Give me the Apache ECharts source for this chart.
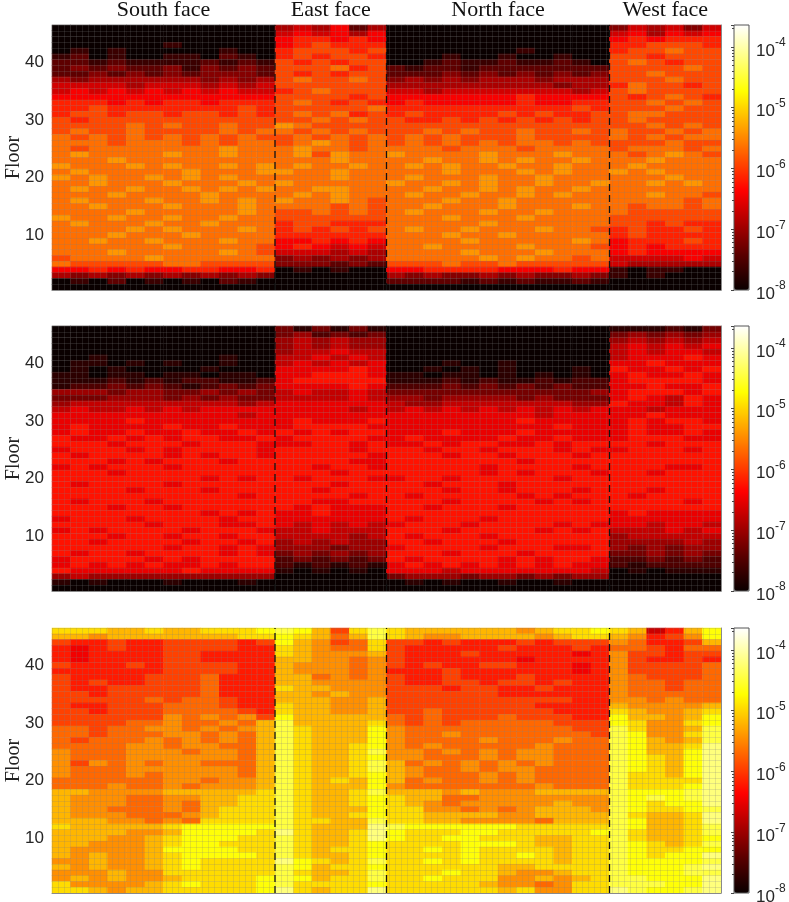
<!DOCTYPE html>
<html><head><meta charset="utf-8">
<style>html,body{margin:0;padding:0;background:#fff}#c{width:789px;height:902px}</style>
<script src="https://cdn.jsdelivr.net/npm/echarts@6/dist/echarts.min.js"></script>
</head><body><div id="c"></div>
<script>
// Values are by-eye estimates at reduced horizontal resolution: one value per floor
// and per block of about 3 original columns. Cell-level speckle is NOT reproduced.
// Each character is a level n in base 17 (0-9,a-g); log10(value) = -8 + 0.25*n + panelLift.
// panelLift is a by-eye colour re-estimate for the panel's non-black cells.
// Rows run from floor 46 down to floor 1; groups are South, East, North, West.
const faces = ['South face','East face','North face','West face'];
const faceCentres = [18.5,46.25,74,101.75];
const faceEdges = [37,55.5,92.5];
const floorTicks = [10,20,30,40];
const panelLift = [0.1,0,0.05];
const panelA = [
'000000000000 454624 000000000000 354535','000000000000 565646 000000000000 564656',
'000000000000 677676 000000000000 676777','000000100000 678777 000000000000 778887',
'010100000100 788878 000000010000 788988','120100110210 787887 000100100100 887888',
'221211112121 878788 001211211210 898788','232322313232 888978 212212222222 888898',
'223232323332 878788 222323232323 889888','434444443434 898898 343434443444 888988',
'555545554545 888888 444444444344 798878','565656565655 789888 554555555545 898888',
'666666666666 888878 666666676666 878987','777676776777 898787 676666676677 889898',
'778777777787 888889 777777777787 888988','788788788787 898978 787777878778 899888',
'878888888888 889898 877878787878 898888','888898988988 a98888 888888888888 889898',
'898898888989 989898 889898898898 988989','989898989898 898989 898988898888 989899',
'999899989899 89a989 898989899898 888988','989999999a99 9a9989 999899989999 899989',
'9a9999a99a99 9a8a99 a9999a999a99 989a98','999a99999999 999a99 99a99a9a99a9 99a999',
'a999a9a99a9a 9a99a9 9a9a99a99a99 9a9999','9a99999a999a a99a99 999a999a9a99 a9a999',
'a9a99a9a9a99 999a99 9a999a99a999 999a99','99a999a999a9 a99999 a99a9a99a99a 99a9a9',
'9a99a99a9a9a 99aa99 99a99a9a99a9 999999','999a9999a999 9a9a99 9a99a99a9a99 99a998',
'9a999a99a9a9 a99a98 999a99a99999 999989','99a999a999a9 999898 99a999a999a9 989989',
'9999a99999a9 889898 9a999a99a999 988888','a99a99a99a99 888888 999a999a9999 888888',
'9a999a99a999 788777 99999a999999 887877','9999a9a999a9 787878 9a99a999a998 787787',
'999a999a9999 777777 999a99a99999 787777','99a99a999a99 667676 9999a99999a9 677787',
'999999a99998 676565 99a9999a9998 676777','999a99999a98 555454 9999a999a999 676666',
'89999a999999 343434 99999a9a9989 555565','988888998888 333232 888988988888 544444',
'667676677667 010100 667777666766 101100','434343434343 000000 434334343343 101000',
'010201010210 000000 222212121121 000000','000000000000 000000 000000000000 000000'];
const panelB = [
'000000000000 313131 000000000000 111213','000000000000 342323 000000000000 343434',
'000000000000 454544 000000000000 454545','000000000000 454544 000000000000 565656',
'000000000000 455655 000000000000 565665','001000000100 556565 000000000000 566676',
'011010100100 565656 000100100000 667666','010100001000 666676 001010100010 766767',
'110110110110 667776 110110101010 676676','111212122112 677777 111212112122 677776',
'122323212323 666676 222323232322 667667','444344334343 565565 333333333334 677767',
'333444343433 555565 443444434333 676576','455555555545 666666 544555555544 766576',
'565565656666 666656 565656565656 665666','666666666656 666666 666666665666 667666',
'666676666666 676667 666666676666 676776','676666766766 677776 666666666766 676677',
'676676676676 767677 666766676666 676676','766767677667 677776 676666766766 677766',
'777677767776 667767 667677667677 776777','677767677776 777767 776776777676 677767',
'767777676776 777776 777677677767 777777','777676777677 777766 777777767777 777777',
'676777677777 776776 777776777767 777667','777677777777 777677 777776767776 776777',
'777777776767 767776 677677777677 777777','767777677777 777677 776777677777 777777',
'777767776777 776777 777677677767 776777','777777777767 777767 767777767677 767777',
'767776777777 776677 777677776767 777767','777677677777 767666 776777677777 777777',
'777777776767 667666 777777777777 676666','677767777677 666666 767776777777 666666',
'777776777667 656565 677767777676 665665','676777767776 556555 777677776767 555656',
'777677677677 555545 767776777777 455555','776777767767 454544 776777677777 444454',
'777777677676 444344 677776777667 434344','767767777676 343434 777677767777 334343',
'677776767777 232323 767777676776 223232','676767667677 212121 676767676766 212222',
'766666676666 101010 666566666665 010111','454444444444 000000 344434434344 000000',
'101000100010 000000 010100100100 000000','000000000000 000000 000000000000 000000'];
const panelC = [
'cccbbcbbcccd edb8ce cbbbbbbabccd cb57bd','bbabbbbbbbcc dcb9be cbaabbbbabcc ba78ad',
'877877888878 dba89c 887877787888 a9778b','767877888877 cba99c 877777877787 998799',
'767777887777 cbaaab 877787777767 a88788','767777887777 bbaa9a 877777767777 a87787',
'877787888877 baaa9a 878778877767 a88889','777777888877 baaa9a 777877777767 a88889',
'877778889777 bb9a9a 877877787777 a98889','878778889777 bbaaaa 877887887877 a99899',
'877888889777 cbbaaa 888788778777 a99899','887888889777 bbabaa 888888777777 a99999',
'888889899877 bbbaab 888888888877 aa9a99','877888999877 cbbaab 888888887777 baaaab',
'887888999987 cbbaab 889888888777 cbaabc','888888a9a9a8 dbbbbb 989888988877 dbbabd',
'888899a99a9b ebbbbc 989899999888 dcaacd','99899aa9a9ab ecbbbd a99999999988 ecaabe',
'998999aa9a9b ecbbbd a99a99999998 edaace','98999a9a9a9b ecbbbd a9999a999a99 edbabe',
'9999aa9aa99b ecbbcd a9a99999a999 edbbcf','a999aaa9aa9b ecbbce aa9a9a9aa999 edbbdf',
'a999aaaaaa9b ecbbcd aa999a9aa999 edcbdf','a8a9a9aa999b ecbbce b9a9a9a9a999 edcbdf',
'a999aaaaaa9b ecbbce ba99a9aa9999 edcbdf','a999a9aaaa9b ecbbcd ba999a9a9999 eccbdf',
'999999aa9aab ecbcbd b9a99a9a9999 eccccf','999a99a9aaab ecbbbd a9999999a999 ecccdf',
'bbaaaabbbbbc ecbbce bbbabaaabbbb edddef','baaa99aabbcc ecbbcd cbb99aaaaaaa ededef',
'baaa99a9bbcc ecbbcd cba9aaaaabaa edcddf','baa999a9bccc ecbbbd ccaa9a9abbba edccde',
'baaa999abccc ecbbcd ccbbbbaabbbb ecbbcf','bbbaa9a9cccc eccbbe ccbbaaaa9bbb edbbcf',
'cbbbbbcddddd ecbbbf eddddddccccc edbbce','bbbbaabddddc fcbbcf dcccddcccccd ecbbce',
'bbbaabcdddcc ecbbcf dccddcccbbcc ecbbcd','bbaaabcddccc ecbbcd ccccdddcbbcc edcbce',
'baaaabddddcc ecbccd ccdcdccccbcc edccdd','babaabcddddc ecbbcd ccccdccdcbcc edcddf',
'aabaabcdcccc fdcbce ccdcdccccbcc edddde','babaabcdcccc edbccd ccccccbbcccc edddef',
'aaabaacccccc ecbbce cccdccbaabcc edddee','ababaabccccd edbcce ccdcccaababc eedddf',
'caaaabcdcccd eccccd cccccbaa9acc eeeddf','ccbabbcccccd fcbccf ccccccbcaacc feddef'];
const panels = [panelA,panelB,panelC];
const barMin = -8, barMax = Math.log10(2.3e-4);
const hot = ['#0a0000','#550000','#aa0000','#ff0000','#ff5500','#ffaa00','#ffff00','#ffff80','#ffffff'];
const tops = [25,326,628], H = 265, L = 52, W = 669;
const BAR_X = 734, BAR_W = 15;
const mesh = 'rgba(125,125,125,0.42)', sans = '"Liberation Sans",Arial,sans-serif', serif = '"Liberation Serif",serif';
const floors = Array.from({length:46},(_,i)=>String(i+1));
const blocks = Array.from({length:36},(_,i)=>String(i));

const grid=[],xAxis=[],yAxis=[],series=[],visualMap=[];
panels.forEach((rows,p)=>{
  const g0 = grid.length;
  grid.push({left:L,top:tops[p],width:W,height:H,show:false,containLabel:false,outerBoundsMode:'none'});
  xAxis.push({type:'category',gridIndex:g0,data:blocks,axisLabel:{show:false},axisTick:{show:false},axisLine:{show:false},splitLine:{show:false}});
  yAxis.push({type:'category',gridIndex:g0,data:floors,name:'Floor',nameLocation:'middle',nameGap:28,nameRotate:90,nameMoveOverlap:false,
    nameTextStyle:{fontFamily:serif,fontSize:20,color:'#222'},
    axisLine:{show:false},splitLine:{show:false},
    axisTick:{show:true,inside:true,length:4,alignWithLabel:true,lineStyle:{color:'#555'},interval:(i,v)=>floorTicks.includes(+v)},
    axisLabel:{fontFamily:sans,fontSize:17,color:'#262626',margin:8,interval:(i,v)=>floorTicks.includes(+v)}});
  xAxis.push({type:'value',gridIndex:g0,min:0,max:111,interval:1,position:'bottom',z:5,axisLabel:{show:false},axisTick:{show:false},
    axisLine:{show:true,onZero:false,lineStyle:{color:'#8a8a8a'}},splitLine:{show:true,lineStyle:{color:mesh,width:0.5}}});
  yAxis.push({type:'value',gridIndex:g0,min:0,max:46,interval:1,position:'right',z:5,axisLabel:{show:false},axisTick:{show:false},
    axisLine:{show:true,onZero:false,lineStyle:{color:'#8a8a8a'}},splitLine:{show:true,lineStyle:{color:mesh,width:0.5}}});
  const data=[];
  rows.forEach((r,ri)=>{
    r.replace(/ /g,'').split('').forEach((ch,ci)=>{
      const n = parseInt(ch,17);
      data.push([ci,45-ri,n===0?-8:-8+0.25*n+panelLift[p]]);
    });
  });
  const si = series.length;
  series.push({type:'heatmap',xAxisIndex:2*p,yAxisIndex:2*p,data,silent:true,progressive:0,itemStyle:{borderWidth:0}});
  faceEdges.forEach(e=>series.push({type:'line',xAxisIndex:2*p+1,yAxisIndex:2*p+1,data:[[e,0],[e,46]],symbol:'none',silent:true,z:6,
    lineStyle:{color:'#111',width:1.3,type:[7,4]}}));
  visualMap.push({type:'continuous',seriesIndex:si,dimension:2,min:barMin,max:barMax,calculable:false,hoverLink:false,
    left:BAR_X,top:tops[p],itemWidth:BAR_W,itemHeight:H,padding:0,text:null,showLabel:false,inRange:{color:hot},textStyle:{fontSize:0}});
});
panels.forEach((_,p)=>{
  const gi = grid.length;
  grid.push({left:BAR_X,top:tops[p],width:BAR_W,height:H,show:true,backgroundColor:'transparent',borderColor:'#555',borderWidth:1,z:20,containLabel:false,outerBoundsMode:'none'});
  xAxis.push({type:'value',gridIndex:gi,min:0,max:1,show:false});
  yAxis.push({type:'log',gridIndex:gi,logBase:10,min:1e-8,max:2.3e-4,position:'right',z:20,
    axisLine:{show:false},splitLine:{show:false},minorSplitLine:{show:false},
    axisTick:{show:true,inside:true,length:3,lineStyle:{color:'#444'}},
    minorTick:{show:true,splitNumber:9,length:2,lineStyle:{color:'#444'}},
    axisLabel:{margin:7,color:'#262626',fontFamily:sans,
      formatter:v=>{const e=Math.log10(v);return Math.abs(e-Math.round(e))<1e-6?'{b|10}{s|'+Math.round(e)+'}':'';},
      rich:{b:{fontSize:17,fontFamily:sans,color:'#262626',padding:[8,0,0,0]},s:{fontSize:12,fontFamily:sans,color:'#262626',padding:[0,0,8,0]}}}});
});
const chart = echarts.init(document.getElementById('c'),null,{renderer:'canvas'});
chart.setOption({animation:false,backgroundColor:'#fff',grid,xAxis,yAxis,series,visualMap,
  graphic:faces.map((t,i)=>({type:'text',x:L+W*faceCentres[i]/111,y:10,
    style:{text:t,font:'22px '+serif,fill:'#111',align:'center',verticalAlign:'middle',textAlign:'center',textVerticalAlign:'middle'}}))});
</script></body></html>
